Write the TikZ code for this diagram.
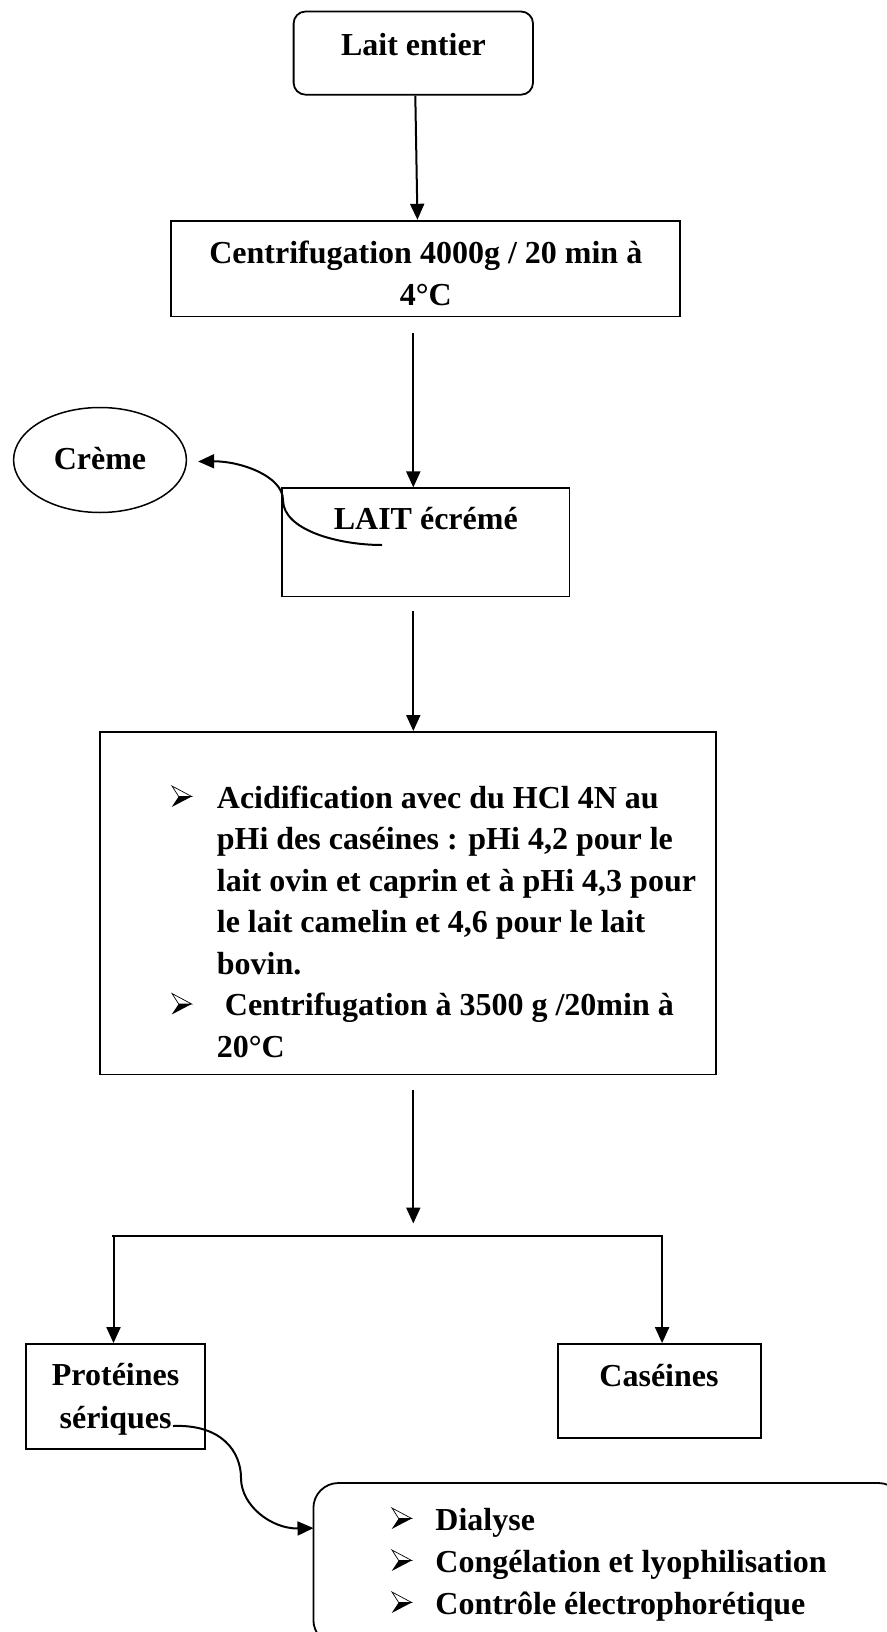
\documentclass[tikz,border=0pt]{standalone}
\usepackage{fontspec}
\setmainfont{Liberation Serif}
\usetikzlibrary{arrows.meta,shapes.geometric,calc}
\newcommand{\bulx}{\hspace*{45pt}}
\newcommand{\buly}{\hspace*{43.5pt}}
\begin{document}
\begin{tikzpicture}[x=1pt,y=-1pt,
  box/.style={draw, line width=1.8pt, inner sep=0pt},
  txt/.style={inner sep=0pt, font=\bfseries\fontsize{32}{41.5}\selectfont},
  arr/.style={line width=2pt, -{Triangle[length=16pt,width=14pt]}},
  bullet/.pic={
    \fill[black] (0,0) -- (7,-10.5) -- (20,-10.5) -- cycle;
    \draw[line width=0.7pt, line join=miter] (0.3,-21) -- (20,-10.5) -- (7,-10.5) -- cycle;}]
\useasboundingbox (0,0) rectangle (886,1632);

% boxes
\node[box, rounded corners=12pt, minimum width=239.4pt, minimum height=83.2pt] (lait) at (413.3,53.1) {};
\node[box, minimum width=509.1pt, minimum height=95.8pt] (centrif) at (425.25,268.6) {};
\node[draw, ellipse, line width=1.5pt, minimum width=172.8pt, minimum height=105pt, inner sep=0pt] (creme) at (100,460) {};
\node[box, minimum width=287.4pt, minimum height=108.2pt] (ecreme) at (425.8,542.4) {};
\node[box, minimum width=616.4pt, minimum height=342.5pt] (big) at (408.1,903.15) {};
\node[box, minimum width=179.1pt, minimum height=105.2pt] (prot) at (115.55,1396.6) {};
\node[box, minimum width=203pt, minimum height=93.9pt] (cas) at (659.5,1390.95) {};
\node[box, rounded corners=25pt, minimum width=590pt, minimum height=162pt] (final) at (608.4,1564) {};

% texts
\node[txt, anchor=base] (tlait) at (413.5,56) {Lait entier};
\node[txt, anchor=base] (tcentrif) at (425.8,263) {\begin{tabular}[t]{@{}c@{}}Centrifugation 4000g / 20 min à\\[0.5pt] 4°C\end{tabular}};
\node[txt, anchor=base] (tcreme) at (100,469) {Crème};
\node[txt, anchor=base] (tecreme) at (425.8,529) {LAIT écrémé};
\node[txt, anchor=base west] (tbig) at (171.7,808) {\begin{tabular}[t]{@{}l@{}l@{}}
\bulx & Acidification avec du HCl 4N au\\
 & pHi des caséines : pHi 4,2 pour le\\
 & lait ovin et caprin et à pHi 4,3 pour\\
 & le lait camelin et 4,6 pour le lait\\
 & bovin.\\
\bulx & \ Centrifugation à 3500 g /20min à\\
 & 20°C
\end{tabular}};
\node[txt, anchor=base] (tprot) at (115.6,1385) {\begin{tabular}[t]{@{}c@{}}Protéines\\[1.5pt] sériques\end{tabular}};
\node[txt, anchor=base] (tcas) at (659,1386) {Caséines};
\node[txt, anchor=base west, font=\bfseries\fontsize{32}{42}\selectfont] (tfinal) at (391.7,1530) {\begin{tabular}[t]{@{}l@{}l@{}}
\buly & Dialyse\\
\buly & Congélation et lyophilisation\\
\buly & Contrôle électrophorétique
\end{tabular}};

% bullets
\pic at (171.7,807) {bullet};
\pic at (171.7,1014.5) {bullet};
\pic at (391.7,1529) {bullet};
\pic at (391.7,1571) {bullet};
\pic at (391.7,1613) {bullet};

% connectors
\draw[arr] ($(lait.south)+(2,0)$) -- ($(centrif.north)+(-7.8,0)$);
\coordinate (a2) at (413.3,333);
\draw[arr] (a2) -- (a2 |- ecreme.north);
\coordinate (a3) at (413.3,611);
\draw[arr] (a3) -- (a3 |- big.north);
\coordinate (a4) at (413.3,1090);
\coordinate (a4e) at (413.3,1223.5);
\draw[arr] (a4) -- (a4e);
\coordinate (hl) at (112.4,1235.8);
\coordinate (hr) at (663.2,1235.8);
\draw[line width=1.8pt] (hl) -- (hr);
\coordinate (dl) at (113.5,1235.8);
\coordinate (dr) at (662.1,1235.8);
\draw[arr] (dl) -- (dl |- prot.north);
\draw[arr] (dr) -- (dr |- cas.north);

% curved connectors
\coordinate (c1) at (382,545);
\draw[arr] (c1) .. controls (338,545) and (283,530) .. (283,500)
  .. controls (283,476) and (240,461) .. ($(creme.east)+(11,1.5)$);
\coordinate (c2) at (173,1426);
\draw[arr] (c2) .. controls (222,1424) and (241,1452) .. (241,1478)
  .. controls (241,1506) and (272,1529) .. ($(final.north west)+(1,46)$);
\end{tikzpicture}
\end{document}
